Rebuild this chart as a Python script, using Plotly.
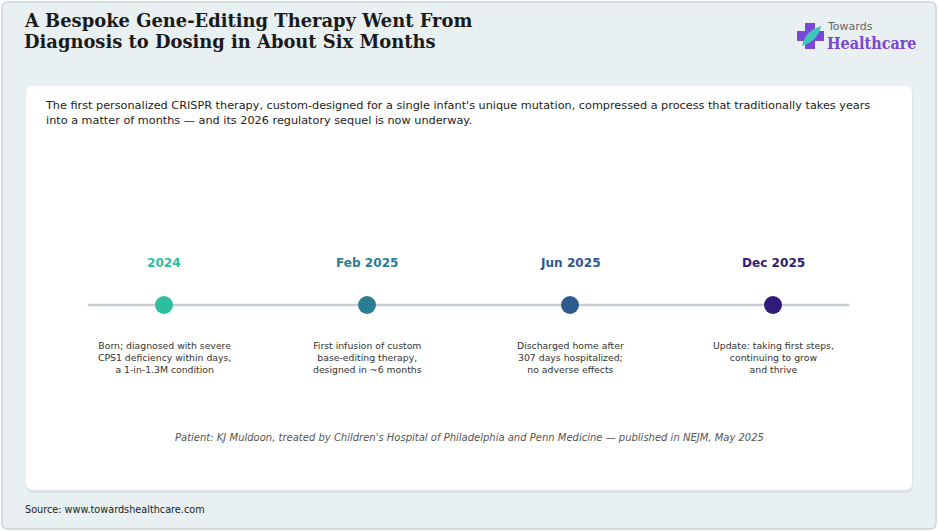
import plotly.graph_objects as go

W, H = 938, 531

# timeline data
dates = ["2024", "Feb 2025", "Jun 2025", "Dec 2025"]
descriptions = [
    "Born; diagnosed with severe<br>CPS1 deficiency within days,<br>a 1-in-1.3M condition",
    "First infusion of custom<br>base-editing therapy,<br>designed in ~6 months",
    "Discharged home after<br>307 days hospitalized;<br>no adverse effects",
    "Update: taking first steps,<br>continuing to grow<br>and thrive",
]
steps = list(range(len(dates)))

title_lines = ["A Bespoke Gene-Editing Therapy Went From",
               "Diagnosis to Dosing in About Six Months"]
subtitle = ("The first personalized CRISPR therapy, custom-designed for a single infant's unique mutation, "
            "compressed a process that traditionally takes years<br>into a matter of months \u2014 and its 2026 "
            "regulatory sequel is now underway.")
footnote = ("Patient: KJ Muldoon, treated by Children's Hospital of Philadelphia and Penn Medicine "
            "\u2014 published in NEJM, May 2025")
source = "Source: www.towardshealthcare.com"

dot_colors = ["#2bbf9e", "#2a7d92", "#2f5a8e", "#2f1c7a"]
SANS = "DejaVu Sans"
SERIF = "DejaVu Serif"


def px(x):
    return x / W


def py(y):
    return 1 - y / H


def rounded(x0, y0, x1, y1, r):
    # rounded rectangle path in paper coords from pixel box
    p = [
        f"M {px(x0 + r)},{py(y0)}",
        f"L {px(x1 - r)},{py(y0)}",
        f"Q {px(x1)},{py(y0)} {px(x1)},{py(y0 + r)}",
        f"L {px(x1)},{py(y1 - r)}",
        f"Q {px(x1)},{py(y1)} {px(x1 - r)},{py(y1)}",
        f"L {px(x0 + r)},{py(y1)}",
        f"Q {px(x0)},{py(y1)} {px(x0)},{py(y1 - r)}",
        f"L {px(x0)},{py(y0 + r)}",
        f"Q {px(x0)},{py(y0)} {px(x0 + r)},{py(y0)}",
        "Z",
    ]
    return " ".join(p)


fig = go.Figure()

# axis line through the milestones
pad = 0.375
fig.add_trace(go.Scatter(
    x=[steps[0] - pad, steps[-1] + pad], y=[0, 0], mode="lines",
    line=dict(color="#c8cdd1", width=2.5), hoverinfo="skip", showlegend=False,
))
fig.add_trace(go.Scatter(
    x=steps, y=[0] * len(steps), mode="markers",
    marker=dict(size=18, color=dot_colors, line=dict(width=0)),
    hovertext=dates, showlegend=False,
))

annotations = []
for i, (d, desc) in enumerate(zip(dates, descriptions)):
    annotations.append(dict(x=steps[i], y=42, xref="x", yref="y", text=f"<b>{d}</b>",
                            showarrow=False, font=dict(family=SANS, size=12.1, color=dot_colors[i])))
    annotations.append(dict(x=steps[i], y=-52, xref="x", yref="y", text=desc, showarrow=False,
                            font=dict(family=SANS, size=9.3, color="#333333")))

shapes = [
    dict(type="path", path=rounded(2, 2, 936, 529, 6), xref="paper", yref="paper",
         fillcolor="#e8f0f2", line=dict(color="#c9d5d8", width=1.5), layer="below"),
    dict(type="path", path=rounded(26, 88, 913, 493, 7), xref="paper", yref="paper",
         fillcolor="rgba(0,0,0,0.05)", line=dict(width=0), layer="below"),
    dict(type="path", path=rounded(26, 86, 912, 490, 7), xref="paper", yref="paper",
         fillcolor="#ffffff", line=dict(width=0), layer="below"),
    # logo cross
    dict(type="rect", xref="paper", yref="paper", x0=px(797), x1=px(824), y0=py(41), y1=py(31),
         fillcolor="#7a48d8", line=dict(width=0)),
    dict(type="rect", xref="paper", yref="paper", x0=px(805), x1=px(815), y0=py(49), y1=py(23),
         fillcolor="#7a48d8", line=dict(width=0)),
    dict(type="path", xref="paper", yref="paper",
         path=(f"M {px(802)},{py(46)} Q {px(805)},{py(31)} {px(821)},{py(26)} "
               f"Q {px(818)},{py(41)} {px(802)},{py(46)} Z"),
         fillcolor="#3cc6b8", line=dict(width=0)),
]

for k, line in enumerate(title_lines):
    annotations.append(dict(x=px(22), y=py(21 + 20.5 * k), xref="paper", yref="paper",
                            xanchor="left", yanchor="middle", text=f"<b>{line}</b>",
                            showarrow=False, font=dict(family=SERIF, size=17.9, color="#1a1a1a")))

annotations += [
    dict(x=px(43), y=py(97), xref="paper", yref="paper", xanchor="left", yanchor="top",
         text=subtitle, align="left", showarrow=False,
         font=dict(family=SANS, size=11.25, color="#222222")),
    dict(x=px(469), y=py(437), xref="paper", yref="paper", xanchor="center", yanchor="middle",
         text=f"<i>{footnote}</i>", showarrow=False,
         font=dict(family=SANS, size=10, color="#555555")),
    dict(x=px(23), y=py(509), xref="paper", yref="paper", xanchor="left", yanchor="middle",
         text=source, showarrow=False, font=dict(family=SANS, size=9.7, color="#222222")),
    dict(x=px(825), y=py(27), xref="paper", yref="paper", xanchor="left", yanchor="middle",
         text="Towards", showarrow=False, font=dict(family=SANS, size=11, color="#666666")),
    dict(x=px(825), y=py(44), xref="paper", yref="paper", xanchor="left", yanchor="middle",
         text="<b>Healthcare</b>", showarrow=False,
         font=dict(family="DejaVu Serif Condensed, DejaVu Serif", size=16, color="#7a44d4")),
]

x_lo = steps[0] - 164 / 203
x_hi = steps[0] + (W - 164) / 203
fig.update_layout(
    width=W, height=H, autosize=False,
    margin=dict(l=0, r=0, t=0, b=0),
    paper_bgcolor="#ffffff", plot_bgcolor="rgba(0,0,0,0)",
    xaxis=dict(range=[x_lo, x_hi], visible=False, fixedrange=True),
    yaxis=dict(range=[305 - H, 305], visible=False, fixedrange=True),
    shapes=shapes, annotations=annotations,
    hovermode="closest",
)

fig.write_html("out.html", config={"displayModeBar": False},
               post_script="document.body.style.margin='0';")
